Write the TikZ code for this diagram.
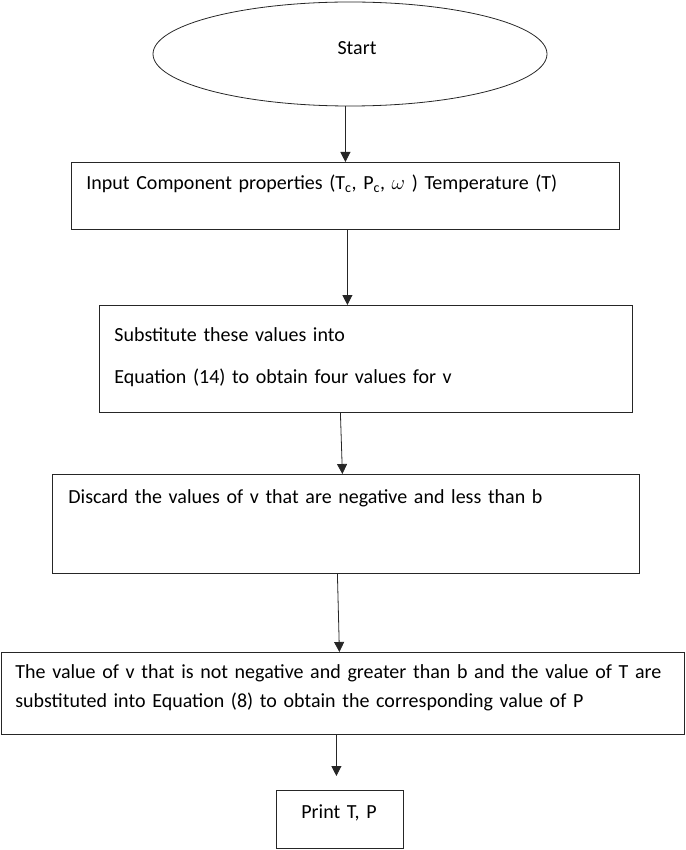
\documentclass[tikz,border=0pt]{standalone}
\usepackage{fontspec}
\setmainfont{Carlito}
\usetikzlibrary{shapes.geometric,arrows.meta}
\tikzset{flowbox/.style={draw=black!85, line width=0.8pt, rectangle, anchor=north west, align=left, inner ysep=0pt}}
\tikzset{startend/.style={draw=black!85, line width=0.8pt, ellipse, minimum width=394pt, minimum height=104pt}}
\tikzset{flowarrow/.style={draw=black!85, line width=0.8pt, -{Triangle[length=10pt,width=10pt]}}}

\begin{document}
\begin{tikzpicture}[x=1pt, y=-1pt, font=\fontsize{20}{29}\selectfont]
\useasboundingbox (0,0) rectangle (685,850);
\node [startend, label={[xshift=7pt, yshift=6pt]center:Start}] (start) at (350,54) {};
\node [flowbox, inner xsep=15pt, text width=518pt, text height=27pt, text depth=40pt] (input) at (71,162) {Input Component properties (T\textsubscript{c}, P\textsubscript{c}, $\omega$ ) Temperature (T)};
\node [flowbox, inner xsep=15pt, text width=503pt, text height=36pt, text depth=71pt] (subst) at (99,305) {Substitute these values into\\[13pt]Equation (14) to obtain four values for v};
\node [flowbox, inner xsep=16pt, text width=555pt, text height=29pt, text depth=70pt] (discard) at (52,474) {Discard the values of v that are negative and less than b};
\node [flowbox, inner xsep=10pt, text width=663pt, text height=26pt, text depth=56pt] (value) at (1,652) {\hspace*{4pt}The value of v that is not negative and greater than b and the value of T are\\\hspace*{4pt}substituted into Equation (8) to obtain the corresponding value of P};
\node [flowbox, inner xsep=25pt, text width=77pt, text height=28pt, text depth=30pt] (print) at (276,790) {Print T, P};
\draw [flowarrow] (start.south -| input.north) -- (input.north);
\draw [flowarrow] ([xshift=2pt]input.south) -- ([xshift=2pt]input.south |- subst.north);
\draw [flowarrow] ([xshift=-25.5pt]subst.south) -- ([xshift=-3.5pt]discard.north);
\draw [flowarrow] ([xshift=-8.5pt]discard.south) -- ([xshift=-3.5pt]value.north);
\draw [flowarrow, shorten >=14pt] ([xshift=-6.5pt]value.south) -- ([xshift=-3.5pt]print.north);
\end{tikzpicture}
\end{document}
